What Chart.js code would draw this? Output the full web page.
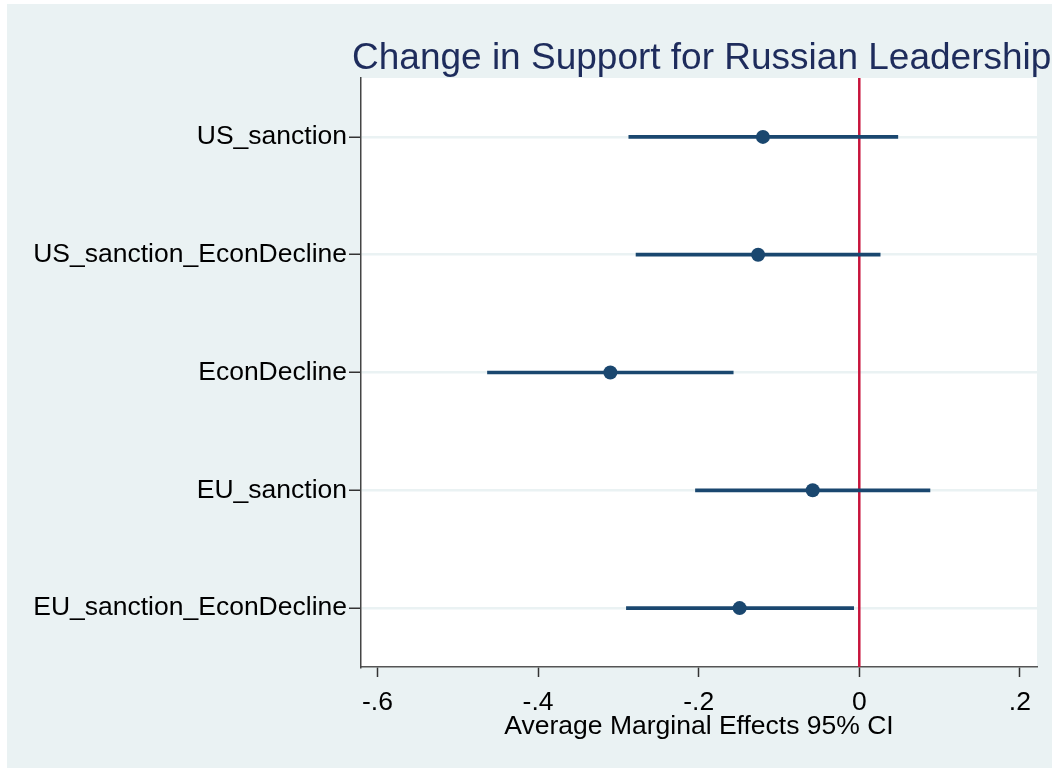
<!DOCTYPE html>
<html>
<head>
<meta charset="utf-8">
<script src="https://cdn.jsdelivr.net/npm/chart.js@4/dist/chart.umd.min.js"></script>
<style>
  html, body { margin: 0; padding: 0; background: #ffffff; }
  canvas { display: block; }
</style>
</head>
<body>
<canvas id="chart" width="1052" height="769"></canvas>
<script>
// Average marginal effects with 95% confidence intervals
const categories = ['US_sanction', 'US_sanction_EconDecline', 'EconDecline', 'EU_sanction', 'EU_sanction_EconDecline'];
const estimates = [-0.120, -0.126, -0.310, -0.058, -0.149];
const ciLower = [-0.287, -0.278, -0.463, -0.204, -0.290];
const ciUpper = [0.048, 0.026, -0.157, 0.088, -0.007];
const tickValues = [-0.6, -0.4, -0.2, 0, 0.2];
const tickLabels = ['-.6', '-.4', '-.2', '0', '.2'];
const referenceValue = 0;

const titleText = 'Change in Support for Russian Leadership';
const axisTitle = 'Average Marginal Effects 95% CI';

const NAVY = '#1a476f';
const REF_RED = '#c8143c';
const REGION_BG = '#eaf2f3';
const FONT = '"Liberation Sans", Arial, Helvetica, sans-serif';
const LABEL_SIZE = 26.5;

// graph region, plot region, reference line and title
const backdrop = {
  id: 'backdrop',
  beforeDraw(chart) {
    const { ctx, chartArea: a } = chart;
    ctx.save();
    ctx.fillStyle = '#ffffff';
    ctx.fillRect(0, 0, chart.width, chart.height);
    ctx.fillStyle = REGION_BG;
    ctx.fillRect(7, 4, chart.width - 7, chart.height - 5);
    ctx.fillStyle = '#ffffff';
    ctx.fillRect(a.left, a.top, a.right - a.left, a.bottom - a.top);
    ctx.restore();
  },
  beforeDatasetsDraw(chart) {
    const { ctx, chartArea: a, scales } = chart;
    const x = scales.x.getPixelForValue(referenceValue);
    ctx.save();
    ctx.strokeStyle = REF_RED;
    ctx.lineWidth = 2.5;
    ctx.beginPath();
    ctx.moveTo(x, a.top);
    ctx.lineTo(x, a.bottom);
    ctx.stroke();
    ctx.restore();
  },
  afterDraw(chart) {
    const { ctx } = chart;
    ctx.save();
    ctx.font = '37px ' + FONT;
    ctx.fillStyle = '#1e2c5c';
    ctx.textAlign = 'left';
    ctx.textBaseline = 'alphabetic';
    ctx.fillText(titleText, 352, 69);
    ctx.restore();
  }
};

new Chart(document.getElementById('chart'), {
  type: 'bar',
  data: {
    labels: categories,
    datasets: [
      {
        type: 'line',
        data: estimates,
        showLine: false,
        pointRadius: 7,
        pointHoverRadius: 7,
        pointBackgroundColor: NAVY,
        pointBorderWidth: 0,
        order: 0
      },
      {
        type: 'bar',
        data: ciLower.map((lo, i) => [lo, ciUpper[i]]),
        backgroundColor: NAVY,
        borderWidth: 0,
        barThickness: 3,
        order: 1
      }
    ]
  },
  options: {
    indexAxis: 'y',
    responsive: false,
    animation: false,
    layout: { padding: { top: 78, right: 15, left: 0, bottom: 0 } },
    plugins: {
      legend: { display: false },
      tooltip: { enabled: false },
      title: { display: false }
    },
    scales: {
      x: {
        type: 'linear',
        min: -0.6205,
        max: 0.2213,
        afterBuildTicks: axis => { axis.ticks = tickValues.map(v => ({ value: v })); },
        afterFit: axis => { axis.height = 102; },
        border: { display: true, color: '#555555', width: 1.5 },
        grid: {
          drawOnChartArea: false,
          tickColor: '#333333',
          tickLength: 10,
          tickWidth: 1.5
        },
        ticks: {
          autoSkip: false,
          maxRotation: 0,
          padding: 10,
          color: '#000000',
          font: { family: FONT, size: LABEL_SIZE },
          callback: v => tickLabels[tickValues.indexOf(v)] ?? ''
        },
        title: {
          display: true,
          text: axisTitle,
          color: '#000000',
          font: { family: FONT, size: LABEL_SIZE },
          padding: { top: 0, bottom: 26 }
        }
      },
      y: {
        type: 'category',
        offset: true,
        afterFit: axis => { axis.width = 361; },
        border: { display: true, color: '#444444', width: 1.5 },
        grid: {
          offset: false,
          color: REGION_BG,
          lineWidth: 2.5,
          tickColor: '#333333',
          tickLength: 12,
          tickWidth: 1.5
        },
        ticks: {
          padding: 2,
          color: '#000000',
          font: { family: FONT, size: LABEL_SIZE }
        }
      }
    }
  },
  plugins: [backdrop]
});
</script>
</body>
</html>
